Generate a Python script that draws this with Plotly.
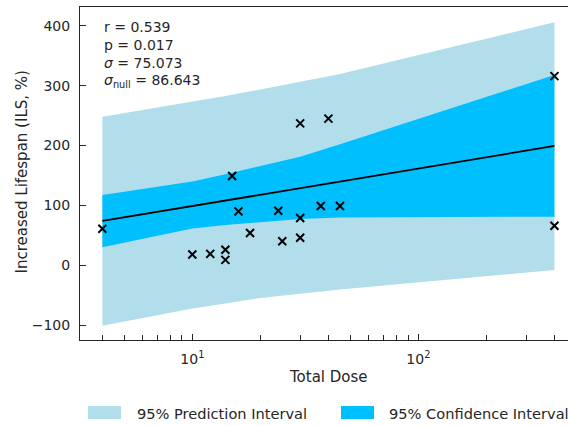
import plotly.graph_objects as go

# ---------------- data ----------------
dose = [4, 10, 12, 14, 14, 15, 16, 18, 24, 25, 30, 30, 30, 37, 40, 45, 400, 400]
ils = [61, 18, 19, 26, 9, 149, 90, 54, 91, 40, 79, 46, 237, 99, 245, 99, 316, 66]

band_x = [4, 10, 14, 20, 30, 45, 400]
pi_upper = [248.2, 272.8, 282.6, 293.6, 307.0, 319.5, 405.9]
pi_lower = [-100.9, -72.2, -64.0, -54.6, -47.1, -40.4, -7.9]
ci_upper = [117.4, 140.0, 152.2, 165.9, 181.4, 202.1, 317.9]
ci_lower = [30.1, 61.5, 67.3, 72.3, 77.3, 79.8, 81.2]

fit_x = [4, 400]
fit_y = [74.0, 199.3]

stats_lines = ["r = 0.539", "p = 0.017", "<i>σ</i> = 75.073", "<i>σ</i><sub>null</sub> = 86.643"]
y_ticks = [-100, 0, 100, 200, 300, 400]
y_ticktext = ["−100", "0", "100", "200", "300", "400"]
x_ticks = [10, 100]
x_ticktext = ["10<sup>1</sup>", "10<sup>2</sup>"]
x_minor = [4, 5, 6, 7, 8, 9, 20, 30, 40, 50, 60, 70, 80, 90, 200, 300, 400]
legend_labels = ["95% Prediction Interval", "95% Confidence Interval"]

PI_COLOR = "#B2DEEC"
CI_COLOR = "#00BFFF"
TXT = "#262626"
FONT = "DejaVu Sans"

# ---------------- layout geometry ----------------
W, H = 568, 426
ML, MR, MT, MB = 80, 0, 7, 86
PW, PH = W - ML - MR, H - MT - MB


def fx(p):
    return (p - ML) / PW


def fy(p):
    return (H - MB - p) / PH


fig = go.Figure()

fig.add_trace(go.Scatter(
    x=band_x + band_x[::-1], y=pi_upper + pi_lower[::-1],
    fill="toself", fillcolor=PI_COLOR, line=dict(width=0), mode="lines",
    hoverinfo="skip", showlegend=False))
fig.add_trace(go.Scatter(
    x=band_x + band_x[::-1], y=ci_upper + ci_lower[::-1],
    fill="toself", fillcolor=CI_COLOR, line=dict(width=0), mode="lines",
    hoverinfo="skip", showlegend=False))
fig.add_trace(go.Scatter(
    x=fit_x, y=fit_y, mode="lines", line=dict(color="black", width=1.8),
    showlegend=False))
fig.add_trace(go.Scatter(
    x=dose, y=ils, mode="markers",
    marker=dict(symbol="x-thin", size=8, color="black",
                line=dict(color="black", width=2)),
    showlegend=False))

annotations = []
ys = [26.7, 45, 62.7, 81]
for txt, yy in zip(stats_lines, ys):
    annotations.append(dict(xref="paper", yref="paper", x=fx(102), y=fy(yy),
                            xanchor="left", yanchor="middle", showarrow=False,
                            text=txt, font=dict(family=FONT, size=14, color=TXT)))

# axis titles
annotations.append(dict(xref="paper", yref="paper", x=fx(328), y=fy(377),
                        xanchor="center", yanchor="middle", showarrow=False,
                        text="Total Dose", font=dict(family=FONT, size=15, color=TXT)))
annotations.append(dict(xref="paper", yref="paper", x=fx(21.5), y=fy(172),
                        xanchor="center", yanchor="middle", showarrow=False, textangle=-90,
                        text="Increased Lifespan (ILS, %)",
                        font=dict(family=FONT, size=15, color=TXT)))

# legend
shapes = []
leg = [(88, 121, 135, PI_COLOR), (341, 374, 387, CI_COLOR)]
for (x0, x1, xt, col), lab in zip(leg, legend_labels):
    shapes.append(dict(type="rect", xref="paper", yref="paper",
                       x0=fx(x0), x1=fx(x1), y0=fy(419), y1=fy(406),
                       fillcolor=col, line=dict(width=0)))
    annotations.append(dict(xref="paper", yref="paper", x=fx(xt), y=fy(413),
                            xanchor="left", yanchor="middle", showarrow=False,
                            text=lab, font=dict(family=FONT, size=14.6, color=TXT)))

fig.update_layout(
    width=W, height=H, margin=dict(l=ML, r=MR, t=MT, b=MB, pad=0),
    paper_bgcolor="white", plot_bgcolor="white",
    font=dict(family=FONT, size=14, color=TXT),
    annotations=annotations, shapes=shapes, showlegend=False,
    xaxis=dict(type="log", range=[0.503, 2.662], showgrid=False, zeroline=False,
               showline=True, linecolor=TXT, linewidth=1, mirror=True,
               ticks="inside", ticklen=6, tickwidth=1, tickcolor=TXT,
               tickvals=x_ticks, ticktext=x_ticktext, ticklabelstandoff=6,
               tickfont=dict(family=FONT, size=14, color=TXT),
               minor=dict(ticks="inside", ticklen=5, tickwidth=1, tickcolor=TXT,
                          tickvals=x_minor, showgrid=False)),
    yaxis=dict(range=[-124.8, 431.4], showgrid=False, zeroline=False,
               showline=True, linecolor=TXT, linewidth=1, mirror=False,
               ticks="inside", ticklen=6, tickwidth=1, tickcolor=TXT,
               tickvals=y_ticks, ticktext=y_ticktext, ticklabelstandoff=6,
               tickfont=dict(family=FONT, size=14, color=TXT)),
)

fig.write_html("out.html")
